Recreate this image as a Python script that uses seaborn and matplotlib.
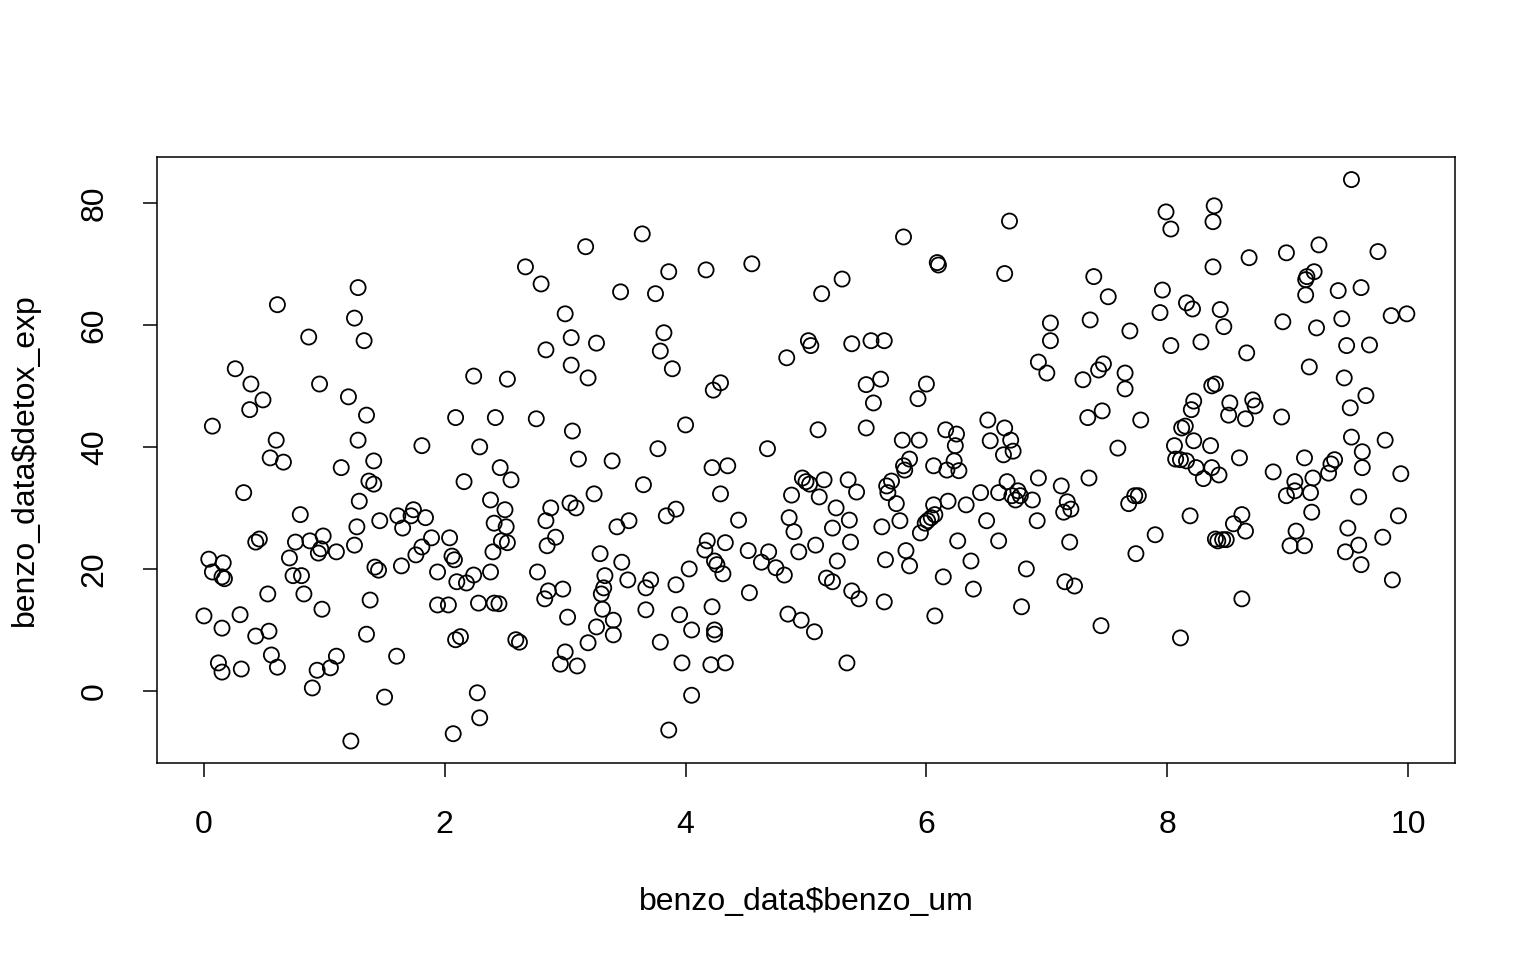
import matplotlib
matplotlib.use("Agg")
import matplotlib.pyplot as plt
import seaborn as sns
import pandas as pd

benzo_um = [
    0.00, 0.04, 0.07, 0.07, 0.12, 0.15, 0.15, 0.16, 0.17, 0.15, 0.26, 0.30, 0.31, 0.33, 0.39, 0.38,
    0.43, 0.43, 0.46, 0.49, 0.53, 0.54, 0.55, 0.56, 0.60, 0.61, 0.61, 0.66, 0.71, 0.74, 0.76, 0.80,
    0.81, 0.83, 0.87, 0.88, 0.90, 0.94, 0.95, 0.96, 0.97, 0.99, 0.98,
    1.05, 1.10, 1.10, 1.14, 1.20, 1.22, 1.25, 1.25, 1.27, 1.28, 1.28, 1.29, 1.33, 1.35, 1.35, 1.37,
    1.38, 1.41, 1.41, 1.42, 1.45, 1.46, 1.50, 1.60, 1.61, 1.64, 1.65, 1.72, 1.74, 1.76, 1.81, 1.81,
    1.84, 1.89, 1.94, 1.94,
    2.03, 2.04, 2.06, 2.07, 2.08, 2.09, 2.09, 2.10, 2.13, 2.16, 2.18, 2.24, 2.24, 2.27, 2.28, 2.29,
    2.29, 2.38, 2.38, 2.40, 2.41, 2.41, 2.42, 2.45, 2.46, 2.47, 2.50, 2.51, 2.52, 2.52, 2.55, 2.59,
    2.62, 2.67, 2.76, 2.77, 2.80, 2.83, 2.84, 2.84, 2.85, 2.86, 2.88, 2.92, 2.96, 2.98, 3.00, 3.00,
    3.02, 3.04, 3.05, 3.05, 3.06, 3.09, 3.10, 3.11, 3.17, 3.19, 3.19, 3.24, 3.26, 3.26, 3.29, 3.30,
    3.31, 3.32, 3.33, 3.39, 3.40, 3.40, 3.43, 3.46, 3.47, 3.52, 3.53, 3.64, 3.65, 3.67, 3.67, 3.71,
    3.75, 3.77, 3.79, 3.79, 3.82, 3.84, 3.86, 3.86, 3.89, 3.92, 3.92, 3.95, 3.97, 4.00,
    4.03, 4.05, 4.05, 4.17, 4.16, 4.18, 4.21, 4.22, 4.22, 4.23, 4.24, 4.24, 4.24, 4.26, 4.29, 4.29,
    4.31, 4.33, 4.33, 4.35, 4.44, 4.52, 4.53, 4.55, 4.63, 4.68, 4.69, 4.75, 4.82, 4.84, 4.85, 4.86,
    4.88, 4.90, 4.94, 4.96, 4.97, 5.00,
    5.02, 5.04, 5.03, 5.07, 5.08, 5.10, 5.11, 5.13, 5.15, 5.17, 5.22, 5.22, 5.25, 5.26, 5.30, 5.34,
    5.35, 5.36, 5.37, 5.38, 5.38, 5.42, 5.44, 5.50, 5.50, 5.54, 5.56, 5.62, 5.63, 5.65, 5.65, 5.66,
    5.67, 5.68, 5.71, 5.75, 5.78, 5.81, 5.80, 5.81, 5.82, 5.83, 5.86, 5.86, 5.93, 5.94, 5.95, 5.99,
    6.00,
    6.01, 6.04, 6.06, 6.06, 6.07, 6.07, 6.09, 6.10, 6.14, 6.16, 6.17, 6.18, 6.23, 6.24, 6.25, 6.26,
    6.27, 6.33, 6.37, 6.39, 6.45, 6.51, 6.50, 6.53, 6.60, 6.60, 6.64, 6.65, 6.65, 6.67, 6.69, 6.70,
    6.71, 6.72, 6.74, 6.76, 6.78, 6.79, 6.83, 6.88, 6.92, 6.93, 6.93, 7.00,
    7.03, 7.03, 7.12, 7.14, 7.15, 7.17, 7.19, 7.20, 7.23, 7.30, 7.34, 7.35, 7.36, 7.39, 7.43, 7.45,
    7.46, 7.47, 7.51, 7.59, 7.65, 7.65, 7.68, 7.69, 7.73, 7.74, 7.76, 7.78, 7.90, 7.94, 7.96, 7.99,
    8.03, 8.03, 8.06,
    8.07, 8.11, 8.11, 8.12, 8.15, 8.16, 8.16, 8.19, 8.20, 8.21, 8.22, 8.22, 8.24, 8.28, 8.30, 8.36,
    8.37, 8.37, 8.38, 8.38, 8.39, 8.40, 8.40, 8.42, 8.43, 8.44, 8.46, 8.47, 8.49, 8.51, 8.52, 8.55,
    8.60, 8.62, 8.62, 8.65, 8.66, 8.65, 8.68, 8.71, 8.73, 8.88, 8.95, 8.96, 8.99, 8.99,
    9.02, 9.06, 9.06, 9.07, 9.14, 9.14, 9.15, 9.15, 9.16, 9.18, 9.19, 9.20, 9.21, 9.22, 9.24, 9.26,
    9.34, 9.36, 9.39, 9.42, 9.45, 9.47, 9.48, 9.49, 9.50, 9.52, 9.53, 9.53, 9.59, 9.59, 9.61, 9.61,
    9.62, 9.62, 9.65, 9.68, 9.75, 9.79, 9.81, 9.86, 9.87, 9.92, 9.94, 9.99,
]

detox_exp = [
    12.3, 21.6, 43.4, 19.5, 4.6, 3.1, 10.3, 21.0, 18.4, 18.7, 52.8, 12.5, 3.6, 32.5, 50.3, 46.1,
    9.0, 24.4, 24.9, 47.7, 15.9, 9.8, 38.2, 5.9, 41.1, 3.9, 63.3, 37.5, 21.8, 18.9, 24.4, 28.9,
    18.9, 15.9, 58.0, 24.6, 0.5, 3.4, 22.6, 50.3, 23.3, 25.4, 13.4,
    3.8, 5.7, 22.8, 36.6, 48.2, -8.2, 61.1, 23.9, 26.9, 66.1, 41.1, 31.1, 57.4, 9.3, 45.2, 34.4,
    14.9, 33.9, 37.7, 20.3, 19.8, 27.9, -1.0, 5.7, 28.7, 20.5, 26.7, 28.7, 29.7, 22.3, 23.6, 40.2,
    28.4, 25.1, 19.5, 14.1,
    14.1, 25.1, 22.1, -7.0, 21.5, 44.8, 8.4, 17.9, 8.9, 34.3, 17.7, 51.6, 19.0, -0.3, 14.4, 40.0,
    -4.4, 31.3, 19.5, 22.8, 27.5, 14.4, 44.8, 14.3, 36.6, 24.6, 29.7, 26.9, 24.3, 51.1, 34.6, 8.4,
    8.0, 69.5, 44.6, 19.5, 66.7, 15.1, 55.9, 27.9, 23.8, 16.4, 30.0, 25.2, 4.4, 16.7, 61.8, 6.4,
    12.1, 30.8, 57.9, 53.4, 42.6, 30.0, 4.1, 38.0, 72.8, 7.9, 51.3, 32.3, 10.5, 57.0, 22.5, 15.9,
    13.4, 16.9, 18.9, 37.7, 11.6, 9.2, 26.9, 65.4, 21.1, 18.2, 27.9, 74.9, 33.8, 13.3, 16.9, 18.2,
    65.1, 39.7, 55.7, 8.0, 58.7, 28.7, -6.4, 68.7, 52.8, 17.4, 29.8, 12.5, 4.6, 43.6,
    20.0, -0.7, 10.0, 69.0, 23.1, 24.6, 4.3, 36.6, 13.8, 49.3, 10.0, 9.3, 21.3, 20.7, 50.5, 32.3,
    19.2, 4.6, 24.3, 36.9, 28.0, 23.0, 16.1, 70.0, 21.1, 39.7, 22.8, 20.2, 19.0, 54.6, 12.6, 28.4,
    32.1, 26.1, 22.8, 11.6, 34.9, 34.3,
    57.4, 56.6, 33.9, 9.7, 23.9, 42.8, 31.8, 65.1, 34.6, 18.5, 17.9, 26.7, 30.0, 21.3, 67.5, 4.6,
    34.6, 28.0, 24.4, 16.4, 56.9, 32.6, 15.1, 43.1, 50.2, 57.4, 47.2, 51.1, 26.9, 57.4, 14.6, 21.5,
    33.6, 32.5, 34.4, 30.7, 27.9, 36.9, 41.1, 74.4, 36.2, 23.0, 38.0, 20.5, 47.9, 41.1, 25.9, 27.5,
    50.3,
    27.9, 28.4, 30.5, 36.9, 12.3, 28.9, 70.2, 69.8, 18.7, 42.8, 36.2, 31.1, 37.7, 40.2, 42.1, 24.6,
    36.1, 30.5, 21.3, 16.7, 32.5, 44.4, 27.9, 41.0, 24.6, 32.5, 38.7, 68.4, 43.1, 34.3, 77.0, 41.1,
    32.0, 39.3, 31.3, 32.8, 32.0, 13.8, 20.0, 31.3, 27.9, 53.9, 34.9, 52.1,
    60.3, 57.4, 33.6, 29.3, 17.9, 31.0, 24.4, 29.8, 17.2, 51.0, 44.8, 34.9, 60.8, 67.9, 52.6, 10.7,
    45.9, 53.6, 64.6, 39.8, 52.1, 49.5, 30.7, 59.0, 32.0, 22.5, 32.0, 44.4, 25.6, 62.0, 65.7, 78.5,
    75.7, 56.6, 40.2,
    38.0, 37.9, 8.7, 43.1, 43.4, 37.7, 63.6, 28.7, 46.1, 62.6, 41.0, 47.5, 36.6, 57.2, 34.8, 40.2,
    36.6, 50.0, 69.5, 76.9, 79.5, 50.3, 24.9, 24.6, 35.4, 62.5, 24.8, 59.7, 24.8, 45.2, 47.2, 27.4,
    38.2, 28.9, 15.1, 44.6, 55.4, 26.2, 71.0, 47.7, 46.7, 35.9, 44.9, 60.5, 71.8, 32.0,
    23.8, 34.3, 32.8, 26.2, 38.2, 23.8, 64.9, 67.4, 67.9, 53.1, 32.5, 29.3, 34.9, 68.7, 59.5, 73.1,
    35.7, 37.2, 37.9, 65.6, 61.0, 51.3, 22.8, 56.6, 26.7, 46.4, 83.8, 41.6, 31.8, 23.9, 20.7, 66.1,
    39.2, 36.6, 48.4, 56.7, 72.0, 25.2, 41.1, 61.5, 18.2, 28.7, 35.6, 61.8,
]

x_ticks = [0, 2, 4, 6, 8, 10]
y_ticks = [0, 20, 40, 60, 80]
x_label = "benzo_data$benzo_um"
y_label = "benzo_data$detox_exp"

df = pd.DataFrame({"x": benzo_um, "y": detox_exp})

sns.set_theme(style="white")
plt.rcParams["font.family"] = ["Liberation Sans", "DejaVu Sans"]

fig = plt.figure(figsize=(15.36, 9.6), dpi=100)
ax = fig.add_axes([157 / 1536, 1 - 763 / 960, 1298 / 1536, 606 / 960])

sns.scatterplot(data=df, x="x", y="y", ax=ax, marker="o", s=118,
                facecolor="none", edgecolor="black", linewidth=1.3)

ax.set_xlim(-0.39, 10.39)
ax.set_ylim(-11.8, 87.5)
ax.set_xticks(x_ticks)
ax.set_xticklabels([str(t) for t in x_ticks])
ax.set_yticks(y_ticks)
ax.set_yticklabels([str(t) for t in y_ticks], rotation=90, va="center")

for s in ax.spines.values():
    s.set_visible(True)
    s.set_color("black")
    s.set_linewidth(1.1)

ax.tick_params(axis="both", direction="out", length=10, width=1.1, color="black",
               labelsize=23, labelcolor="black", bottom=True, left=True)
ax.tick_params(axis="x", pad=24)
ax.tick_params(axis="y", pad=24)

ax.set_xlabel(x_label, fontsize=23, color="black")
ax.set_ylabel(y_label, fontsize=23, color="black")
ax.xaxis.set_label_coords(0.5, -0.205)
ax.yaxis.set_label_coords(-0.09, 0.5)
ax.grid(False)
ax.set_facecolor("white")
fig.patch.set_facecolor("white")

fig.savefig("out.png", dpi=100, facecolor="white")
